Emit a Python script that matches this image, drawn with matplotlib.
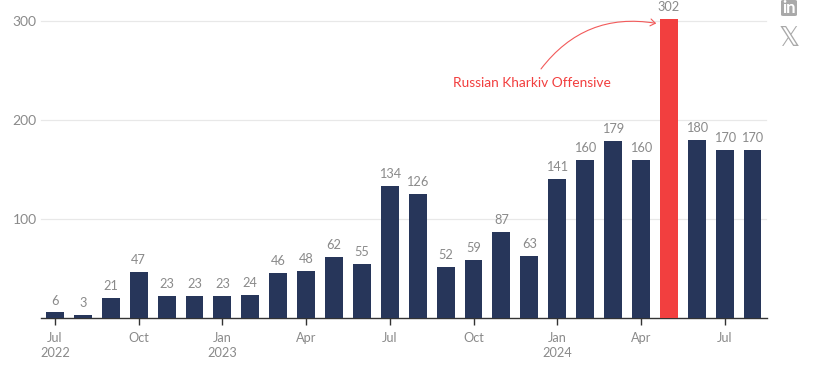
import matplotlib
matplotlib.use("Agg")
import matplotlib.pyplot as plt
from matplotlib.patches import FancyBboxPatch, FancyArrowPatch

months = ["Jul 2022","Aug","Sep","Oct","Nov","Dec","Jan 2023","Feb","Mar","Apr","May","Jun","Jul","Aug","Sep","Oct","Nov","Dec","Jan 2024","Feb","Mar","Apr","May","Jun","Jul","Aug"]
values = [6,3,21,47,23,23,23,24,46,48,62,55,134,126,52,59,87,63,141,160,179,160,302,180,170,170]
highlight = 22
tick_pos = [0,3,6,9,12,15,18,21,24]
tick_labels = ["Jul\n2022","Oct","Jan\n2023","Apr","Jul","Oct","Jan\n2024","Apr","Jul"]
y_ticks = [100,200,300]
annotation = "Russian Kharkiv Offensive"

W,H = 816,376
plt.rcParams['font.family'] = ['Lato','DejaVu Sans']
fig = plt.figure(figsize=(W/100,H/100),dpi=100)
L,R,T,B = 41,767,21.4,318.4
ax = fig.add_axes([L/W,1-B/H,(R-L)/W,(B-T)/H])
step=27.9; x0=55
ax.set_xlim((L-x0)/step,(R-x0)/step)
ax.set_ylim(0,300)
colors=['#f23f3f' if i==highlight else '#27365a' for i in range(len(values))]
ax.bar(range(len(values)),values,width=0.64,color=colors,zorder=3,clip_on=False)
grey='#8a8a8a'
for i,v in enumerate(values):
    ax.text(i,v+6,str(v),ha='center',va='bottom',fontsize=9.2,color=grey,clip_on=False)
for s in ['top','right','left']:
    ax.spines[s].set_visible(False)
ax.spines['bottom'].set_color('#333333'); ax.spines['bottom'].set_linewidth(1)
ax.set_yticks(y_ticks)
ax.set_yticklabels([str(t) for t in y_ticks],fontsize=10,color=grey)
ax.tick_params(axis='y',length=0,pad=3)
for t in y_ticks:
    ax.plot([-0.5,25.5],[t,t],color='#e8e8e8',lw=0.9,zorder=1,clip_on=False)
ax.set_xticks(tick_pos)
ax.set_xticklabels(tick_labels,fontsize=9.2,color=grey,linespacing=1.3)
ax.tick_params(axis='x',length=5,width=1,color='#333333',pad=5)

ax.text(17.1,238,annotation,ha='center',va='center',fontsize=9.9,color='#f23f3f')
ax.add_patch(FancyArrowPatch((17.42,252),(21.55,298),connectionstyle='arc3,rad=-0.3',arrowstyle='->,head_length=3.5,head_width=2.5',color='#f25a5a',lw=0.8,clip_on=False,zorder=4,shrinkA=0,shrinkB=0))

# share icons
fig.add_artist(FancyBboxPatch((781/W,1-16/H),16/W,16/H,boxstyle='round,pad=0,rounding_size=0.003',transform=fig.transFigure,fc='#a9a9a9',ec='none'))
fig.text(789/W,1-8/H,'in',ha='center',va='center',fontsize=12,fontweight='bold',color='white')
fig.text(789/W,1-39/H,'\U0001D54F',ha='center',va='center',fontsize=19,color='#a9a9a9',family=['DejaVu Sans'])
fig.savefig('out.png',dpi=100)
